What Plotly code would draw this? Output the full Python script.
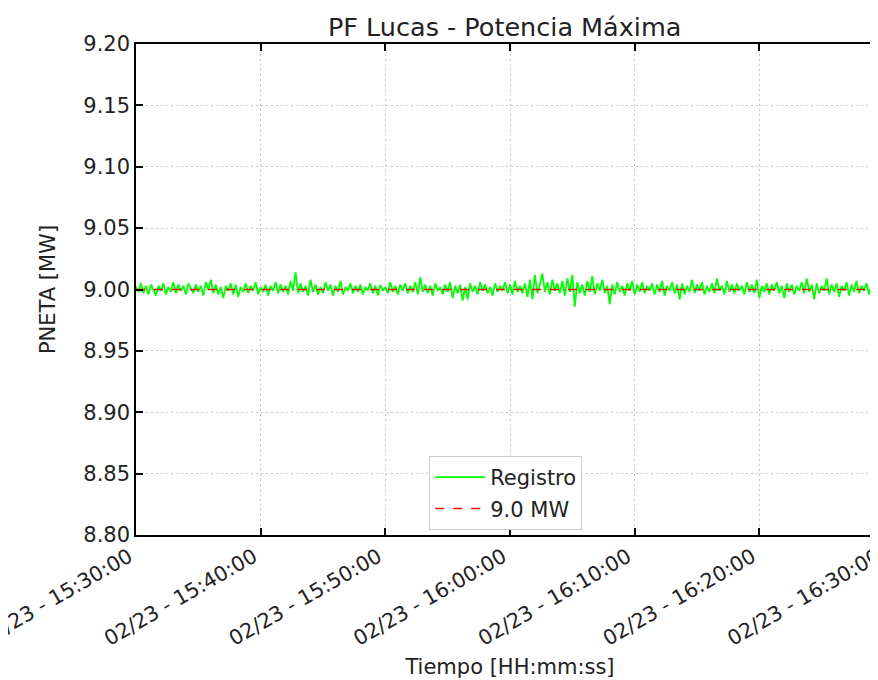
import plotly.graph_objects as go
import pandas as pd

# ---------------- data ----------------
start_time = "2024-02-23 15:30:00"
step_seconds = 12
pneta_mw = [
    9.002, 8.998, 9.005, 8.997, 9.003,
    8.996, 9.004, 9.000, 8.995, 9.003,
    8.999, 9.005, 8.996, 9.002, 8.998,
    9.006, 8.997, 9.004, 8.999, 9.003,
    8.996, 9.005, 9.001, 8.997, 9.004,
    8.998, 9.003, 8.995, 9.006, 9.000,
    9.008, 8.997, 9.004, 8.996, 9.002,
    8.993, 9.003, 8.999, 9.005, 8.996,
    9.004, 8.994, 9.002, 8.998, 9.005,
    8.997, 9.003, 8.999, 9.006, 8.996,
    9.002, 8.998, 9.004, 8.995, 9.003,
    8.999, 9.006, 8.997, 9.004, 8.998,
    9.003, 8.996, 9.007, 8.999, 9.014,
    8.997, 9.005, 8.998, 9.003, 8.995,
    9.008, 8.998, 9.004, 8.996, 9.002,
    8.997, 9.006, 8.999, 9.004, 8.995,
    9.003, 8.998, 9.007, 8.996, 9.002,
    8.999, 9.005, 8.997, 9.003, 8.998,
    9.004, 8.996, 9.002, 8.999, 9.005,
    8.997, 9.003, 8.995, 9.004, 8.999,
    9.002, 8.997, 9.006, 8.998, 9.003,
    8.996, 9.004, 8.999, 9.005, 8.997,
    9.003, 8.998, 9.006, 8.996, 9.010,
    8.998, 9.004, 8.997, 9.003, 8.995,
    9.005, 8.999, 9.002, 8.996, 9.004,
    8.998, 9.006, 8.993, 9.003, 8.997,
    9.004, 8.991, 9.002, 8.992, 9.005,
    8.998, 9.003, 8.996, 9.006, 8.999,
    9.004, 8.997, 9.002, 8.995, 9.005,
    8.998, 9.003, 8.999, 9.006, 8.997,
    9.004, 8.996, 9.007, 8.998, 9.003,
    8.997, 9.005, 8.994, 9.008, 8.992,
    9.012, 8.997, 9.004, 9.013, 8.998,
    9.006, 8.996, 9.008, 8.999, 9.005,
    8.997, 9.007, 8.995, 9.009, 8.998,
    9.012, 8.986, 9.006, 8.997, 9.004,
    8.995, 9.007, 8.998, 9.011, 8.996,
    9.005, 8.999, 9.008, 8.997, 9.003,
    8.988, 9.004, 8.996, 9.006, 8.998,
    9.003, 8.995, 9.005, 8.999, 9.007,
    8.996, 9.004, 8.998, 9.006, 8.997,
    9.003, 8.999, 9.005, 8.996, 9.004,
    8.998, 9.007, 8.995, 9.003, 8.999,
    9.006, 8.997, 9.004, 8.992, 9.005,
    8.996, 9.003, 8.998, 9.008, 8.997,
    9.004, 8.999, 9.006, 8.996, 9.003,
    8.998, 9.005, 8.997, 9.009, 8.999,
    9.003, 8.996, 9.007, 8.998, 9.004,
    8.997, 9.005, 8.999, 9.003, 8.996,
    9.006, 8.998, 9.004, 8.997, 9.008,
    8.993, 9.003, 8.998, 9.005, 8.996,
    9.004, 8.999, 9.006, 8.997, 9.003,
    8.993, 9.005, 8.998, 9.004, 8.996,
    9.003, 8.999, 9.006, 8.997, 9.009,
    8.998, 9.004, 8.992, 9.005, 8.997,
    9.003, 8.999, 9.009, 8.996, 9.004,
    8.998, 9.005, 8.994, 9.003, 8.999,
    9.006, 8.995, 9.004, 8.998, 9.007,
    8.997, 9.003, 8.999, 9.005, 8.996,
    9.004, 8.998, 9.003, 8.997, 9.002,
    9.000,
]
limit_mw = 9.0
limit_label = "9.0 MW"
series_label = "Registro"

x_range = ["2024-02-23 15:30:00", "2024-02-23 16:30:00"]
x_tick_step = "10min"
y_range = [8.80, 9.20]
y_ticks = [8.80, 8.85, 8.90, 8.95, 9.00, 9.05, 9.10, 9.15, 9.20]

title_text = "PF Lucas - Potencia Máxima"
x_title = "Tiempo [HH:mm:ss]"
y_title = "PNETA [MW]"

# ---------------- figure ----------------
times = pd.date_range(start_time, periods=len(pneta_mw), freq=f"{step_seconds}s")
x_ticks = pd.date_range(x_range[0], x_range[1], freq=x_tick_step)

FONT = "DejaVu Sans"
TXT = "#222222"
FS = 21
GRID = "#c4c4c4"

fig = go.Figure()
fig.add_trace(go.Scatter(
    x=times, y=pneta_mw, mode="lines", name=series_label, legendgroup="a",
    line=dict(color="#00ff00", width=1.8),
))
fig.add_trace(go.Scatter(
    x=[times[0], times[-1]], y=[limit_mw, limit_mw], mode="lines", name=limit_label,
    legendgroup="b",
    line=dict(color="#ff0000", width=1.5, dash="dash"),
))

fig.update_layout(
    width=876, height=672,
    margin=dict(l=128, r=0, t=36, b=145),
    paper_bgcolor="white", plot_bgcolor="white",
    font=dict(family=FONT, size=FS, color=TXT),
    title=dict(text=title_text, font=dict(family=FONT, size=25.5, color=TXT),
               x=0.567, xanchor="center", xref="container",
               y=1 - 19 / 672, yanchor="middle", yref="container"),
    legend=dict(x=0.392, y=0.161, xanchor="left", yanchor="top",
                bgcolor="white", bordercolor="#cccccc", borderwidth=1,
                tracegroupgap=1, itemwidth=50,
                font=dict(family=FONT, size=FS, color=TXT)),
    showlegend=True,
)

fig.update_xaxes(
    range=x_range, tickvals=x_ticks, tickformat="%m/%d - %H:%M:%S",
    tickangle=-30, tickfont=dict(family=FONT, size=20.6, color=TXT),
    ticklabeloverflow="allow", ticklabelshift=-7,
    showline=True, linecolor="black", linewidth=1.5, mirror="allticks",
    ticks="inside", ticklen=7, tickwidth=1.5, tickcolor="black",
    showgrid=True, gridcolor=GRID, griddash="2px,3px", gridwidth=1,
    zeroline=False, automargin=False,
    title=dict(text=x_title, font=dict(family=FONT, size=FS, color=TXT), standoff=10),
)
fig.update_yaxes(
    range=y_range, tickvals=y_ticks, tickformat=".2f",
    tickfont=dict(family=FONT, size=FS, color=TXT),
    showline=True, linecolor="black", linewidth=1.5, mirror=False,
    ticks="inside", ticklen=7, tickwidth=1.5, tickcolor="black",
    showgrid=True, gridcolor=GRID, griddash="2px,3px", gridwidth=1,
    zeroline=False, automargin=False,
    title=dict(text=y_title, font=dict(family=FONT, size=FS, color=TXT), standoff=22),
)

fig.write_html("out.html")
